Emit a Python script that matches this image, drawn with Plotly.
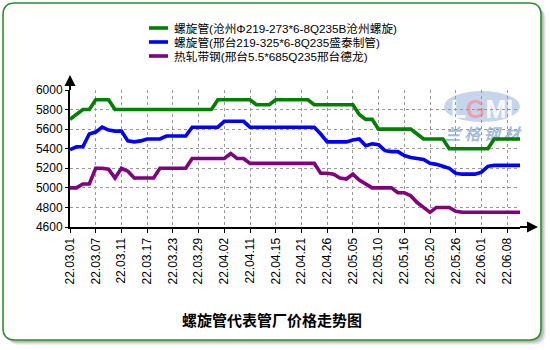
import plotly.graph_objects as go

# ---------------- data ----------------
dates = ["22.03.01","22.03.02","22.03.03","22.03.04","22.03.07","22.03.08","22.03.09","22.03.10",
         "22.03.11","22.03.14","22.03.15","22.03.16","22.03.17","22.03.18","22.03.21","22.03.22",
         "22.03.23","22.03.24","22.03.25","22.03.28","22.03.29","22.03.30","22.03.31","22.04.01",
         "22.04.02","22.04.06","22.04.07","22.04.08","22.04.11","22.04.12","22.04.13","22.04.14",
         "22.04.15","22.04.18","22.04.19","22.04.20","22.04.21","22.04.22","22.04.24","22.04.25",
         "22.04.26","22.04.27","22.04.28","22.04.29","22.05.05","22.05.06","22.05.07","22.05.09",
         "22.05.10","22.05.11","22.05.12","22.05.13","22.05.16","22.05.17","22.05.18","22.05.19",
         "22.05.20","22.05.23","22.05.24","22.05.25","22.05.26","22.05.27","22.05.30","22.05.31",
         "22.06.01","22.06.02","22.06.06","22.06.07","22.06.08","22.06.09","22.06.10"]

tick_labels = ["22.03.01","22.03.07","22.03.11","22.03.17","22.03.23","22.03.29","22.04.02",
               "22.04.11","22.04.15","22.04.21","22.04.26","22.05.05","22.05.10","22.05.16",
               "22.05.20","22.05.26","22.06.01","22.06.08"]

cangzhou = [5700,5750,5800,5800,5900,5900,5900,5800,
            5800,5800,5800,5800,5800,5800,5800,5800,
            5800,5800,5800,5800,5800,5800,5800,5900,
            5900,5900,5900,5900,5900,5850,5850,5850,
            5900,5900,5900,5900,5900,5900,5850,5850,
            5850,5850,5850,5850,5850,5750,5700,5700,
            5600,5600,5600,5600,5600,5600,5550,5500,
            5500,5500,5500,5400,5400,5400,5400,5400,
            5400,5400,5500,5500,5500,5500,5500]

shengtai = [5390,5420,5420,5550,5570,5620,5590,5580,
            5580,5480,5470,5480,5500,5500,5500,5530,
            5530,5530,5530,5620,5620,5620,5620,5620,
            5680,5680,5680,5680,5620,5620,5620,5620,
            5620,5620,5620,5620,5620,5620,5620,5550,
            5470,5470,5470,5470,5490,5500,5430,5450,
            5440,5380,5370,5370,5330,5310,5300,5290,
            5250,5240,5220,5200,5150,5140,5140,5140,
            5160,5220,5230,5230,5230,5230,5230]

rezha = [5000,5000,5040,5040,5200,5200,5190,5100,
         5200,5170,5100,5100,5100,5100,5200,5200,
         5200,5200,5200,5300,5300,5300,5300,5300,
         5300,5350,5300,5300,5250,5250,5250,5250,
         5250,5250,5250,5250,5250,5250,5250,5150,
         5150,5140,5100,5090,5140,5080,5040,5000,
         5000,5000,5000,4950,4950,4920,4850,4800,
         4750,4800,4800,4800,4760,4750,4750,4750,
         4750,4750,4750,4750,4750,4750,4750]

series_names = ["螺旋管(沧州Φ219-273*6-8Q235B沧州螺旋)",
                "螺旋管(邢台219-325*6-8Q235盛泰制管)",
                "热轧带钢(邢台5.5*685Q235邢台德龙)"]
series_values = [cangzhou, shengtai, rezha]
series_colors = ["#008000", "#0000FF", "#800080"]
title_text = "螺旋管代表管厂价格走势图"

# ---------------- layout geometry (pixels) ----------------
W, H = 550, 350
ML, MR, MT, MB = 70, 30, 90, 123
PW, PH = W - ML - MR, H - MT - MB


def px(x):
    return (x - ML) / PW


def py(y):
    return (H - MB - y) / PH


def rrect(L, T, R, B, r):
    return (f"M {px(L + r)},{py(T)} L {px(R - r)},{py(T)} Q {px(R)},{py(T)} {px(R)},{py(T + r)} "
            f"L {px(R)},{py(B - r)} Q {px(R)},{py(B)} {px(R - r)},{py(B)} "
            f"L {px(L + r)},{py(B)} Q {px(L)},{py(B)} {px(L)},{py(B - r)} "
            f"L {px(L)},{py(T + r)} Q {px(L)},{py(T)} {px(L + r)},{py(T)} Z")


LATIN = "Liberation Sans, Arial, Noto Sans CJK SC, sans-serif"
CJK = "Liberation Sans, Noto Sans CJK SC, sans-serif"

fig = go.Figure()
for name, vals, col in zip(series_names, series_values, series_colors):
    fig.add_trace(go.Scatter(x=dates, y=vals, mode="lines", name=name,
                             line=dict(color=col, width=3.6), showlegend=False,
                             hoverinfo="x+y"))

shapes = []
# shadow
for off, a in [(5, 0.05), (4, 0.07), (3, 0.09), (2, 0.1)]:
    shapes.append(dict(type="path", xref="paper", yref="paper", layer="below",
                       path=rrect(3 + off, 3 + off, 541 + off, 340 + off, 12),
                       fillcolor=f"rgba(0,0,0,{a})", line=dict(width=0)))
# white card with green border
shapes.append(dict(type="path", xref="paper", yref="paper", layer="below",
                   path=rrect(3, 3, 541, 340, 12), fillcolor="white",
                   line=dict(color="#2f8f2f", width=1.6)))
# watermark logo
shapes.append(dict(type="circle", xref="paper", yref="paper", layer="below",
                   x0=px(444), x1=px(520), y0=py(91), y1=py(122),
                   fillcolor="rgba(140,172,218,0.5)", line=dict(width=0)))
shapes.append(dict(type="rect", xref="paper", yref="paper", layer="below",
                   x0=px(444), x1=px(520), y0=py(93), y1=py(121),
                   fillcolor="rgba(0,0,0,0)", line=dict(width=0),
                   label=dict(text="<b>L<span style='color:rgba(245,150,160,0.9)'>G</span>MI</b>",
                              font=dict(family=LATIN, size=25,
                                        color="rgba(255,255,255,0.9)"))))
shapes.append(dict(type="rect", xref="paper", yref="paper", layer="below",
                   x0=px(436), x1=px(528), y0=py(125), y1=py(147),
                   fillcolor="rgba(0,0,0,0)", line=dict(width=0),
                   label=dict(text="<b><i>兰 格 钢 材</i></b>",
                              font=dict(family="Noto Sans CJK SC", size=16,
                                        color="rgba(120,155,210,0.7)"))))
# axis extensions and arrows
shapes.append(dict(type="line", xref="paper", yref="paper", x0=0, x1=0, y0=1, y1=py(84),
                   line=dict(color="black", width=2)))
shapes.append(dict(type="path", xref="paper", yref="paper",
                   path=f"M {px(70)},{py(75)} L {px(64.5)},{py(86)} L {px(75.5)},{py(86)} Z",
                   fillcolor="black", line=dict(width=0)))
shapes.append(dict(type="line", xref="paper", yref="paper", x0=1, x1=px(529), y0=0, y1=0,
                   line=dict(color="black", width=2)))
shapes.append(dict(type="path", xref="paper", yref="paper",
                   path=f"M {px(538)},{py(227)} L {px(527)},{py(221.5)} L {px(527)},{py(232.5)} Z",
                   fillcolor="black", line=dict(width=0)))
# manual legend samples
legend_y = [28, 42, 56]
annotations = []
for name, col, ly in zip(series_names, series_colors, legend_y):
    shapes.append(dict(type="line", xref="paper", yref="paper", x0=px(149), x1=px(168),
                       y0=py(ly), y1=py(ly), line=dict(color=col, width=3.6)))
    annotations.append(dict(text=name, xref="paper", yref="paper", x=px(172), y=py(ly),
                            xanchor="left", yanchor="middle", showarrow=False,
                            font=dict(family=CJK, size=11.7, color="black")))

annotations.append(dict(text=f"<b>{title_text}</b>", xref="paper", yref="paper",
                        x=px(272), y=py(319), xanchor="center", yanchor="middle",
                        showarrow=False,
                        font=dict(family="Noto Sans CJK SC", size=15, color="black")))

fig.update_layout(
    width=W, height=H,
    margin=dict(l=ML, r=MR, t=MT, b=MB, pad=0),
    paper_bgcolor="white", plot_bgcolor="rgba(0,0,0,0)",
    shapes=shapes, annotations=annotations,
    showlegend=False,
    xaxis=dict(type="category", categoryorder="array", categoryarray=dates,
               range=[0, len(dates) - 1], tickmode="array", tickvals=tick_labels,
               ticktext=tick_labels, tickangle=-90, ticks="outside", ticklen=4,
               tickcolor="black", tickwidth=1, showline=True, linecolor="black",
               linewidth=2, showgrid=True, gridcolor="#9a9a9a", griddash="dot",
               gridwidth=1, zeroline=False,
               tickfont=dict(family=LATIN, size=12, color="black")),
    yaxis=dict(range=[4600, 6000], tick0=4600, dtick=200, ticks="outside", ticklen=3,
               tickcolor="black", showline=True, linecolor="black", linewidth=2,
               showgrid=True, gridcolor="#9a9a9a", griddash="dot", gridwidth=1,
               zeroline=False, tickfont=dict(family=LATIN, size=12, color="black")),
)

fig.write_html("out.html")
